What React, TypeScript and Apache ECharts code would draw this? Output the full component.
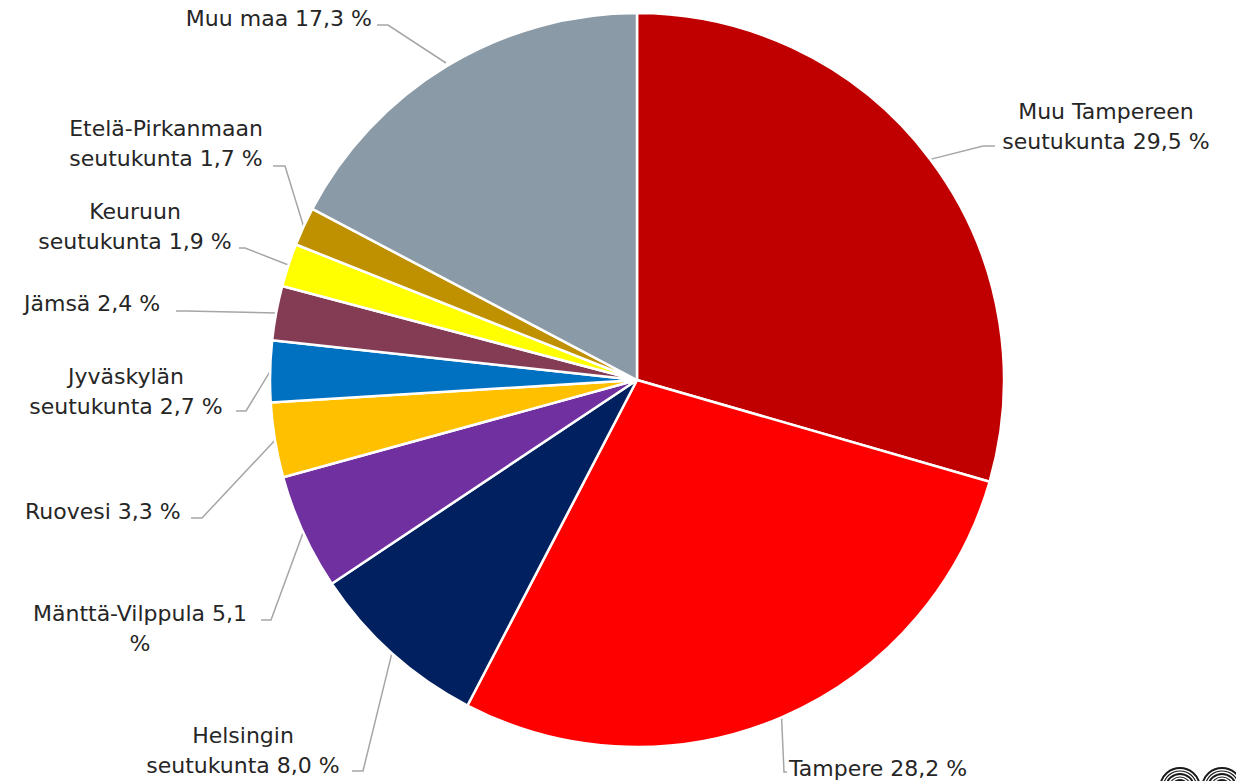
import React, { useEffect, useRef } from "react";
import * as echarts from "echarts";

// ---- Data ----
const categories = [
  "Muu Tampereen seutukunta",
  "Tampere",
  "Helsingin seutukunta",
  "Mänttä-Vilppula",
  "Ruovesi",
  "Jyväskylän seutukunta",
  "Jämsä",
  "Keuruun seutukunta",
  "Etelä-Pirkanmaan seutukunta",
  "Muu maa",
];
const values = [29.5, 28.2, 8.0, 5.1, 3.3, 2.7, 2.4, 1.9, 1.7, 17.3];

// ---- Styles / layout (not data) ----
const colors = [
  "#C00000",
  "#FF0000",
  "#002060",
  "#7030A0",
  "#FFC000",
  "#0070C0",
  "#843C54",
  "#FFFF00",
  "#BF9000",
  "#8A9AA6",
];
// how the label name wraps (display only)
const labelNames = [
  "Muu Tampereen\nseutukunta",
  "Tampere",
  "Helsingin\nseutukunta",
  "Mänttä-Vilppula",
  "Ruovesi",
  "Jyväskylän\nseutukunta",
  "Jämsä",
  "Keuruun\nseutukunta",
  "Etelä-Pirkanmaan\nseutukunta",
  "Muu maa",
];
const pctSeparators = [" ", " ", " ", "\n", " ", " ", " ", " ", " ", " "];

type LabelPos = {
  x: number;
  y: number;
  align: "left" | "center" | "right";
  bend: [number, number];
  end: [number, number];
  start?: [number, number];
};
const labelPositions: LabelPos[] = [
  { x: 1106, y: 126, align: "center", bend: [983, 146], end: [995, 146] },
  { x: 789, y: 768, align: "left", bend: [784, 772], end: [787, 772] },
  { x: 243, y: 750, align: "center", bend: [363, 771], end: [352, 771] },
  { x: 140, y: 628, align: "center", bend: [271, 620], end: [261, 620] },
  { x: 25, y: 511, align: "left", bend: [202, 518], end: [191, 518] },
  { x: 126, y: 391, align: "center", bend: [246, 411], end: [236, 411] },
  { x: 24, y: 303, align: "left", bend: [186, 311], end: [176, 311] },
  { x: 135, y: 226, align: "center", bend: [245, 248], end: [239, 248] },
  { x: 166, y: 143, align: "center", bend: [285, 166], end: [273, 166] },
  { x: 372, y: 18, align: "right", bend: [388, 25], end: [377, 25], start: [446, 63] },
];

const fmt = (v: number) => v.toFixed(1).replace(".", ",");

export default function App() {
  const ref = useRef<HTMLDivElement>(null);

  useEffect(() => {
    document.body.style.margin = "0";
    if (!ref.current) return;
    const chart = echarts.init(ref.current, undefined, { renderer: "svg" });

    const data = categories.map((name, i) => ({
      name,
      value: values[i],
      itemStyle: { color: colors[i] },
    }));

    const logoArcs: any[] = [];
    [0, 1].forEach((k) => {
      const cx = k === 0 ? 1180 : 1222;
      [20, 17, 14, 11, 8].forEach((r, j) => {
        logoArcs.push({
          type: "arc",
          shape: { cx, cy: 788, r, startAngle: Math.PI * 1.05, endAngle: Math.PI * 1.95 },
          style: { stroke: "#1a1a1a", lineWidth: j % 2 === 0 ? 2 : 1.2, fill: null },
          silent: true,
        });
      });
    });

    chart.setOption({
      animation: false,
      backgroundColor: "#ffffff",
      graphic: logoArcs,
      series: [
        {
          type: "pie",
          center: [637, 380],
          radius: [0, 367],
          startAngle: 90,
          clockwise: true,
          avoidLabelOverlap: false,
          data,
          itemStyle: { borderColor: "#ffffff", borderWidth: 2.5 },
          emphasis: { disabled: true },
          label: {
            show: true,
            position: "outside",
            fontFamily: "DejaVu Sans",
            fontSize: 22,
            lineHeight: 30,
            color: "#262626",
            formatter: (p: any) =>
              `${labelNames[p.dataIndex]} ${fmt(p.value)}${pctSeparators[p.dataIndex]}%`,
          },
          labelLine: {
            show: true,
            length: 20,
            length2: 10,
            lineStyle: { color: "#A6A6A6", width: 1.5 },
          },
          labelLayout: (params: any) => {
            const lp = labelPositions[params.dataIndex];
            const pts = params.labelLinePoints;
            const start = lp.start ? lp.start : pts ? pts[0] : lp.bend;
            return {
              x: lp.x,
              y: lp.y,
              align: lp.align,
              verticalAlign: "middle",
              labelLinePoints: [start, lp.bend, lp.end],
            };
          },
        },
      ],
    });

    return () => chart.dispose();
  }, []);

  return <div ref={ref} style={{ width: 1236, height: 781 }} />;
}
